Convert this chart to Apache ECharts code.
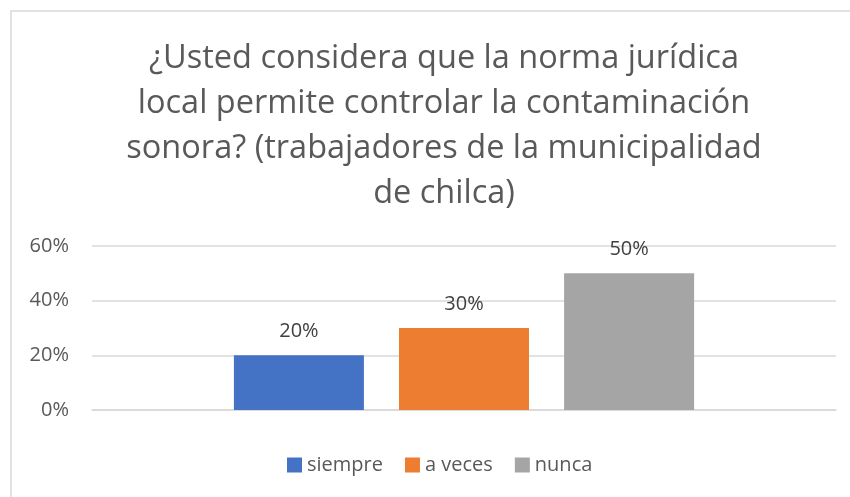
<!DOCTYPE html>
<html>
<head>
<meta charset="utf-8">
<script src="https://cdn.jsdelivr.net/npm/echarts@6/dist/echarts.min.js"></script>
<style>
  html, body { margin: 0; padding: 0; background: #fff; }
  #chart { width: 850px; height: 497px; }
</style>
</head>
<body>
<div id="chart"></div>
<script>
var categories = ['total'];
var seriesNames = ['siempre', 'a veces', 'nunca'];
var siempre = [0.2];
var aVeces = [0.3];
var nunca = [0.5];
var yTicks = [0, 0.2, 0.4, 0.6];

var colors = ['#4472C4', '#ED7D31', '#A5A5A5'];
var font = 'Open Sans';

function pct(v) { return Math.round(v * 100) + '%'; }

function bar(name, data, color) {
    return {
        name: name,
        type: 'bar',
        data: data,
        barWidth: 130,
        barGap: '27%',
        itemStyle: { color: color },
        label: {
            show: true,
            position: 'top',
            distance: 14,
            color: '#404040',
            fontFamily: font,
            fontSize: 20,
            formatter: function (p) { return pct(p.value); }
        }
    };
}

var option = {
    backgroundColor: '#fff',
    animation: false,
    graphic: [{
        type: 'rect',
        shape: { x: 11, y: 11, width: 900, height: 600 },
        style: { fill: 'none', stroke: '#d9d9d9', lineWidth: 1.5 },
        silent: true
    }],
    title: {
        text: '¿Usted considera que la norma jurídica\nlocal permite controlar la contaminación\nsonora? (trabajadores de la municipalidad\nde chilca)',
        left: 439,
        textAlign: 'center',
        top: 31,
        textStyle: {
            fontFamily: font,
            fontSize: 32.5,
            fontWeight: 'normal',
            color: '#595959',
            lineHeight: 45
        }
    },
    legend: {
        bottom: 17,
        left: 282,
        itemWidth: 15,
        itemHeight: 15,
        itemGap: 22,
        icon: 'rect',
        textStyle: { fontFamily: font, fontSize: 20, color: '#595959' },
        data: seriesNames
    },
    grid: { left: 92, right: 14, top: 246, bottom: 87, containLabel: false },
    xAxis: {
        type: 'category',
        data: categories,
        axisLine: { lineStyle: { color: '#d9d9d9', width: 1.5 } },
        axisTick: { show: false },
        axisLabel: { show: false }
    },
    yAxis: {
        type: 'value',
        min: yTicks[0],
        max: yTicks[yTicks.length - 1],
        interval: 0.2,
        axisLine: { show: false },
        axisTick: { show: false },
        splitLine: { lineStyle: { color: '#d9d9d9', width: 1.5 } },
        axisLabel: {
            margin: 23,
            color: '#595959',
            fontFamily: font,
            fontSize: 20,
            formatter: pct
        }
    },
    series: [
        bar(seriesNames[0], siempre, colors[0]),
        bar(seriesNames[1], aVeces, colors[1]),
        bar(seriesNames[2], nunca, colors[2])
    ]
};

var chart = echarts.init(document.getElementById('chart'));
chart.setOption(option);
</script>
</body>
</html>
